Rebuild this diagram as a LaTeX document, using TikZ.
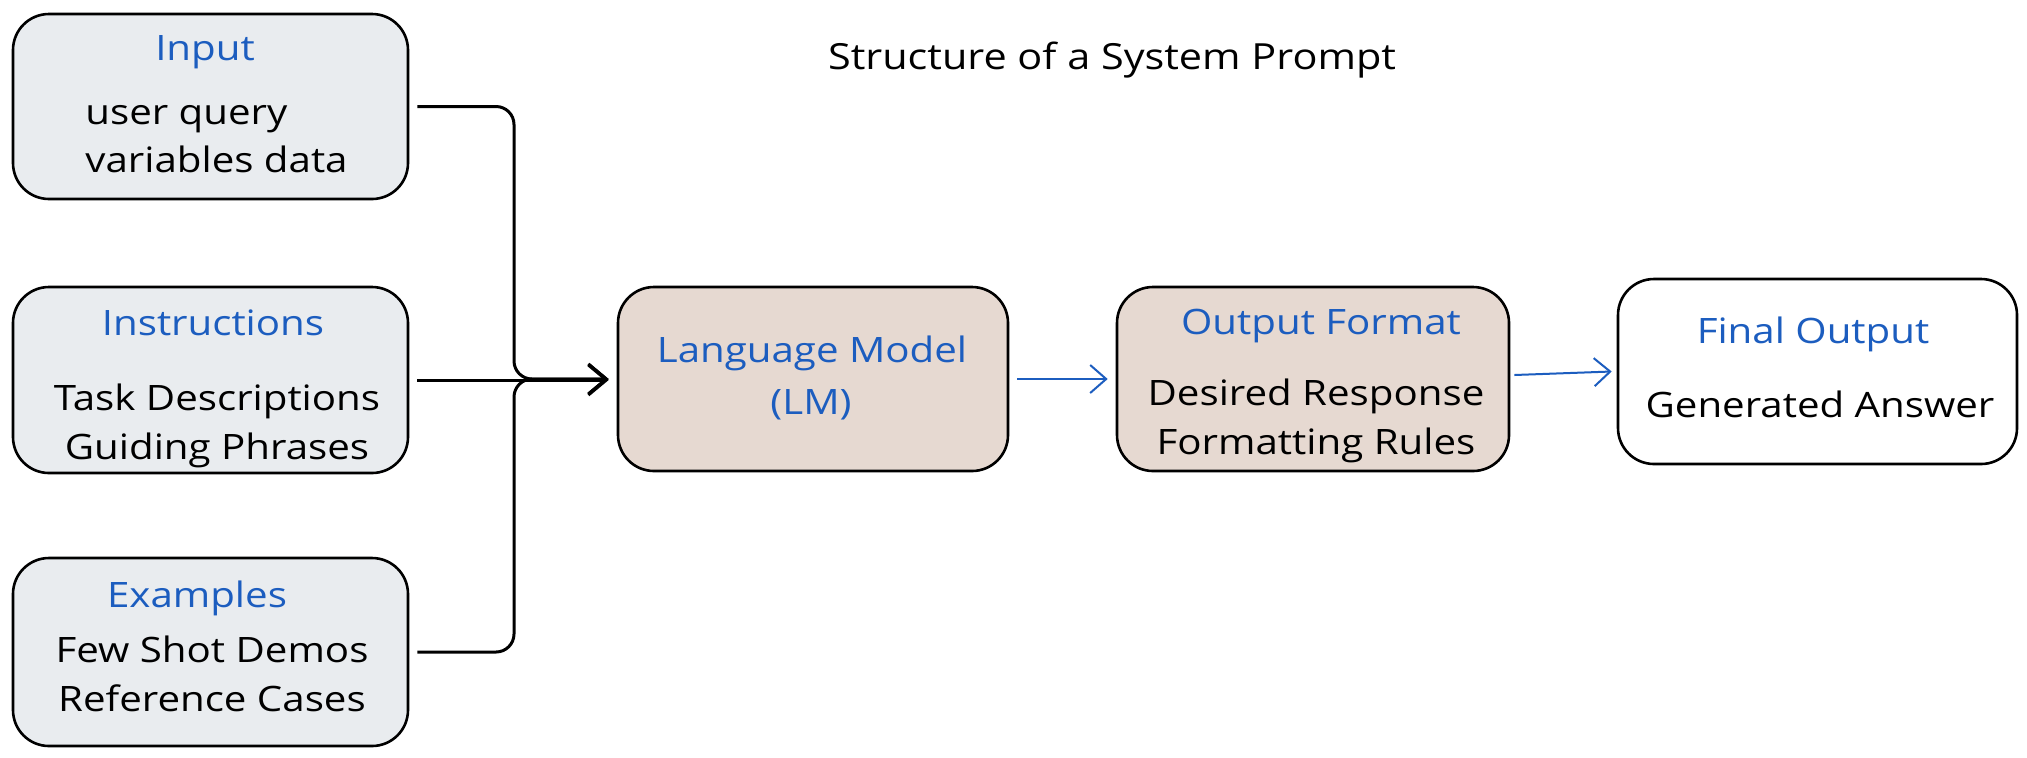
\documentclass[tikz,border=0pt]{standalone}
\usepackage{fontspec}
\setmainfont[FakeStretch=1.15]{Open Sans}
\usetikzlibrary{arrows.meta}
\definecolor{hblue}{HTML}{1C5DBF}
\definecolor{greyfill}{HTML}{E9ECEF}
\definecolor{brownfill}{HTML}{E6D9D1}
\tikzset{
  box/.style={draw=black, line width=1.3pt, rounded corners=18pt, inner sep=0pt},
  greybox/.style={box, fill=greyfill},
  brownbox/.style={box, fill=brownfill},
  whitebox/.style={box, fill=white},
  txt/.style={inner sep=0pt, text height=0.72em, text depth=0.22em, yshift=-3.5pt},
  head/.style={txt, text=hblue, font=\fontsize{17.5}{20}\selectfont},
  body/.style={txt, text=black, font=\fontsize{17.5}{20}\selectfont},
  blackarrow/.style={draw=black, line width=1.5pt, rounded corners=9pt, -{Straight Barb[length=9pt,width=15pt,line width=1.5pt]}},
  bluearrow/.style={draw=hblue, line width=1pt, -{Straight Barb[length=8pt,width=14pt,line width=1pt]}},
}
\begin{document}
\begin{tikzpicture}[x=0.5pt,y=-0.5pt]
\useasboundingbox[fill=white] (0,0) rectangle (2027,757);

% title
\node[body, font=\fontsize{18}{20}\selectfont] (title) at (1112,57) {Structure of a System Prompt};

% boxes
\node[greybox, minimum width=197.5pt, minimum height=92.5pt] (input) at (210.5,106.5) {};
\node[greybox, minimum width=197.5pt, minimum height=93pt] (instr) at (210.5,380) {};
\node[greybox, minimum width=197.5pt, minimum height=94pt] (examples) at (210.5,652) {};
\node[brownbox, minimum width=195pt, minimum height=92pt] (lm) at (813,379) {};
\node[brownbox, minimum width=196pt, minimum height=92pt] (outfmt) at (1313,379) {};
\node[whitebox, minimum width=199.5pt, minimum height=92.5pt] (final) at (1817.5,371.5) {};

% texts
\node[head] (inputh) at (205,48) {Input};
\node[body, anchor=west] (input1) at (85,112) {user query};
\node[body, anchor=west] (input2) at (85,160) {variables data};

\node[head] (instrh) at (213,323) {Instructions};
\node[body] (instr1) at (217,398) {Task Descriptions};
\node[body] (instr2) at (217,447) {Guiding Phrases};

\node[head] (exh) at (197,595) {Examples};
\node[body] (ex1) at (212,650) {Few Shot Demos};
\node[body] (ex2) at (212,699) {Reference Cases};

\node[head] (lmh) at (812,350) {Language Model};
\node[head] (lm2) at (811,402) {(LM)};

\node[head] (outh) at (1321,322) {Output Format};
\node[body] (out1) at (1316,393) {Desired Response};
\node[body] (out2) at (1316,442) {Formatting Rules};

\node[head] (finh) at (1813,331) {Final Output};
\node[body] (fin1) at (1820,405) {Generated Answer};

% connectors
\coordinate (join) at (514,379);
\draw[blackarrow] ([xshift=4pt]input.east) -- (514,106.5) -- (join) -- ([xshift=-4pt]lm.west);
\draw[blackarrow] ([xshift=4pt]instr.east) -- ([xshift=-4pt]lm.west |- instr.east);
\draw[blackarrow] ([xshift=4pt]examples.east) -- (514,652) -- (join) -- ([xshift=-4pt]lm.west);
\draw[bluearrow] ([xshift=4pt]lm.east) -- ([xshift=-4pt]outfmt.west);
\draw[bluearrow] ([xshift=2pt,yshift=2pt]outfmt.east) -- ([xshift=-2.5pt]final.west);
\end{tikzpicture}
\end{document}
